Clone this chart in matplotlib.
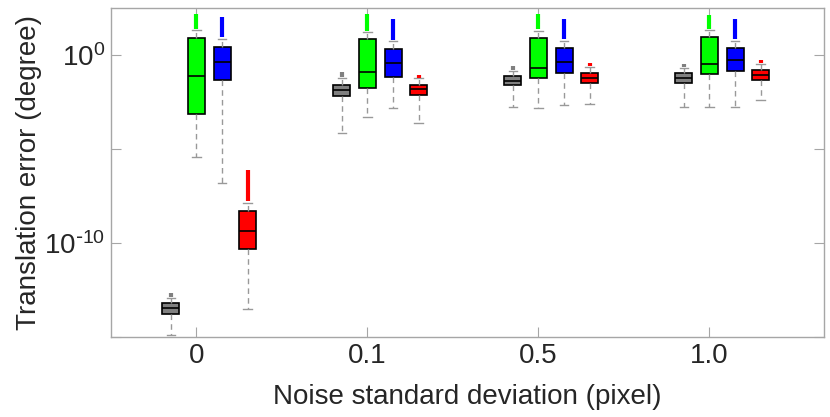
import numpy as np
import matplotlib
matplotlib.use("Agg")
import matplotlib.pyplot as plt

plt.rcParams['font.family'] = ['Liberation Sans', 'DejaVu Sans']

noise_labels = ['0', '0.1', '0.5', '1.0']
methods = ['gray', 'green', 'blue', 'red']
colors = {'gray': '#808080', 'green': '#00ff00', 'blue': '#0000ff', 'red': '#ff0000'}

# all values are log10 of the translation error (degree)
gray_med = [-13.47, -1.86, -1.37, -1.24]
gray_q1 = [-13.76, -2.20, -1.61, -1.51]
gray_q3 = [-13.21, -1.58, -1.12, -0.97]
gray_lo = [-14.88, -4.13, -2.78, -2.78]
gray_hi = [-12.90, -1.24, -0.84, -0.68]
gray_out = [(-12.86, -12.64), (-1.17, -0.91), (-0.80, -0.57), (-0.65, -0.47)]

green_med = [-1.12, -0.92, -0.68, -0.49]
green_q1 = [-3.12, -1.76, -1.21, -1.03]
green_q3 = [0.92, 0.83, 0.92, 0.94]
green_lo = [-5.43, -3.30, -2.84, -2.77]
green_hi = [1.31, 1.21, 1.30, 1.31]
green_out = [(1.40, 2.18), (1.30, 2.18), (1.40, 2.18), (1.38, 2.14)]

blue_med = [-0.37, -0.44, -0.39, -0.28]
blue_q1 = [-1.31, -1.17, -0.97, -0.85]
blue_q3 = [0.43, 0.34, 0.37, 0.37]
blue_lo = [-6.79, -2.80, -2.68, -2.75]
blue_hi = [0.84, 0.73, 0.76, 0.76]
blue_out = [(0.95, 2.00), (0.82, 1.93), (0.85, 1.93), (0.85, 1.93)]

red_med = [-9.38, -1.82, -1.22, -1.06]
red_q1 = [-10.30, -2.13, -1.51, -1.33]
red_q3 = [-8.28, -1.58, -0.94, -0.80]
red_lo = [-13.53, -3.62, -2.62, -2.39]
red_hi = [-7.89, -1.24, -0.64, -0.49]
red_out = [(-7.75, -6.12), (-1.20, -1.05), (-0.60, -0.40), (-0.45, -0.27)]

data = {
    'gray': (gray_med, gray_q1, gray_q3, gray_lo, gray_hi, gray_out),
    'green': (green_med, green_q1, green_q3, green_lo, green_hi, green_out),
    'blue': (blue_med, blue_q1, blue_q3, blue_lo, blue_hi, blue_out),
    'red': (red_med, red_q1, red_q3, red_lo, red_hi, red_out),
}

offsets = {'gray': -0.15, 'green': 0.0, 'blue': 0.15, 'red': 0.30}
box_w = 0.1
dark = '#262626'
axis_col = '#a6a6a6'

fig = plt.figure(figsize=(8.3, 4.17), dpi=100)
ax = fig.add_axes([0.1337, 0.1918, 0.8591, 0.789])
ax.set_yscale('log')

group_pos = np.arange(1, len(noise_labels) + 1)

for m in methods:
    med, q1, q3, lo, hi, out = data[m]
    stats = []
    for i in range(len(noise_labels)):
        stats.append({'med': 10 ** med[i], 'q1': 10 ** q1[i], 'q3': 10 ** q3[i],
                      'whislo': 10 ** lo[i], 'whishi': 10 ** hi[i], 'fliers': []})
    pos = group_pos + offsets[m]
    ax.bxp(stats, positions=pos, widths=box_w, capwidths=0.05, patch_artist=True,
           showfliers=False, manage_ticks=False,
           boxprops=dict(facecolor=colors[m], edgecolor='black', linewidth=1.2),
           medianprops=dict(color='black', linewidth=1.2),
           whiskerprops=dict(color='#999999', linestyle=(0, (4, 3)), linewidth=1),
           capprops=dict(color='#999999', linewidth=1))
    out_lo = [10 ** o[0] for o in out]
    out_hi = [10 ** o[1] for o in out]
    ax.vlines(pos, out_lo, out_hi, colors=colors[m], linewidth=3, zorder=3)

ax.set_xlim(0.5, 4.67)
ax.set_ylim(1e-15, 10 ** 2.5)
ax.set_xticks(group_pos)
ax.set_xticklabels(noise_labels)
ax.set_yticks([1e-15, 1e-10, 1e-5, 1e0])
ax.set_yticklabels(['', r'$\mathregular{10^{\text{-}10}}$', '', r'$\mathregular{10^{0}}$'])
ax.minorticks_off()

for s in ax.spines.values():
    s.set_color(axis_col)
    s.set_linewidth(1)
ax.tick_params(direction='in', length=7, color=axis_col, labelcolor=dark,
               labelsize=20, top=True, right=True, pad=4)

ax.set_xlabel('Noise standard deviation (pixel)', fontsize=20, color=dark, labelpad=11)
ax.set_ylabel('Translation error (degree)', fontsize=20, color=dark)
ax.yaxis.set_label_coords(-0.097, 0.5)

fig.savefig('out.png', dpi=100)
